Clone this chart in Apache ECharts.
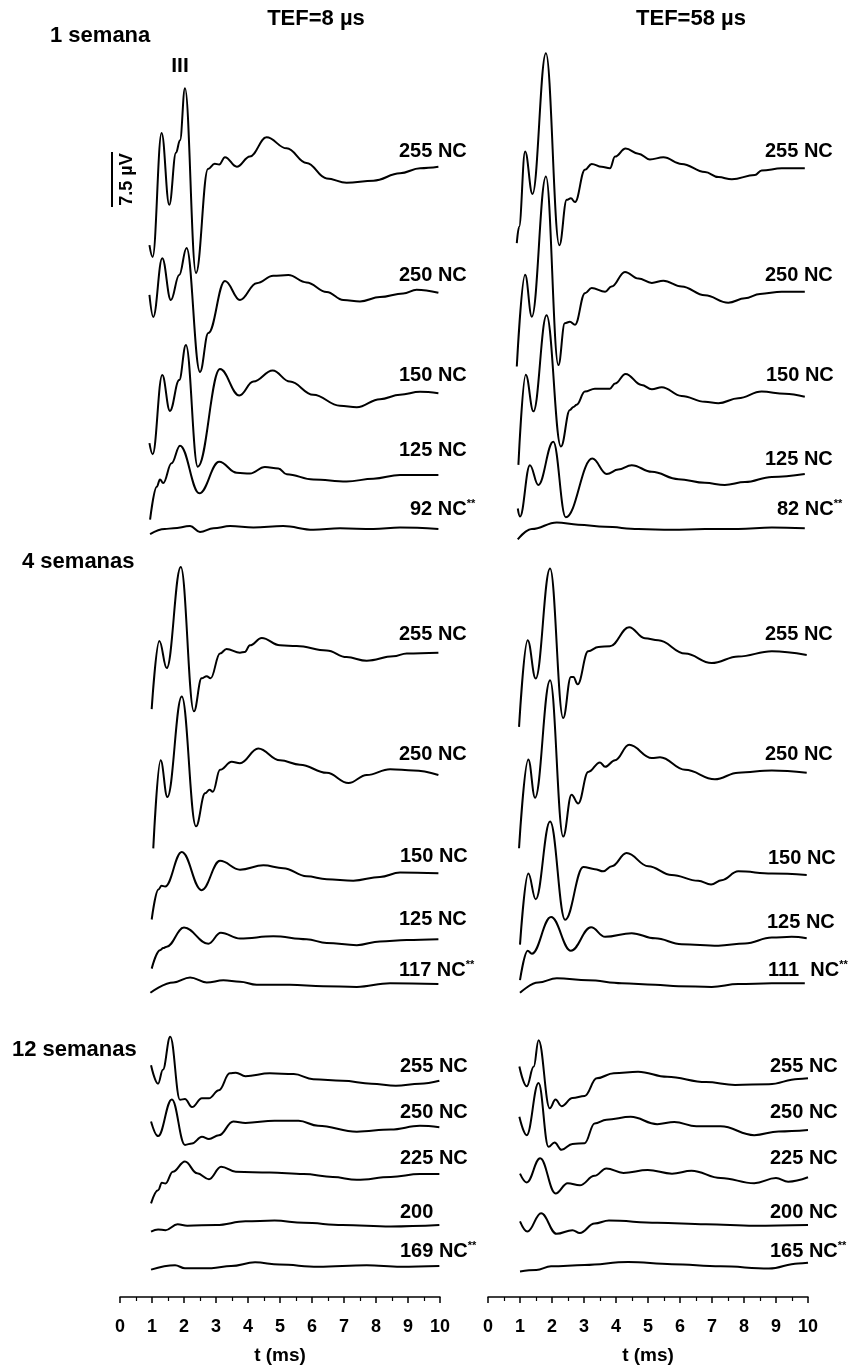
<!DOCTYPE html>
<html>
<head>
<meta charset="utf-8">
<script src="https://cdn.jsdelivr.net/npm/echarts@6/dist/echarts.min.js"></script>
<style>
  html, body { margin: 0; padding: 0; background: #fff; }
  #chart { width: 861px; height: 1368px; }
</style>
</head>
<body>
<div id="chart"></div>
<script>
// ECAP waveforms, amplitude in µV versus time in ms.
// Naming: s<weeks>_<a = TEF 8 µs | b = TEF 58 µs>_<current level>

// ---- 1 semana, TEF = 8 µs ----
const s1_a_255 = [[0.92,-10.7],[1.02,-12.3],[1.30,4.6],[1.54,-5.2],[1.75,1.9],[1.875,3.6],[2.03,10.7],[2.375,-14.5],[2.75,-0.3],[2.96,0.4],[3.1,0.3],[3.28,1.3],[3.65,0.0],[4.06,1.4],[4.58,4.0],[5.21,2.5],[5.83,0.5],[6.46,-1.6],[7.08,-2.2],[7.92,-1.9],[8.75,-0.9],[9.38,-0.2],[9.95,0]];
const s1_a_250 = [[0.92,-0.3],[1.04,-3.3],[1.32,4.7],[1.59,-1.0],[1.85,2.4],[2.08,6.1],[2.5,-10.8],[2.76,-5.5],[3.28,1.6],[3.75,-1.0],[4.27,1.3],[4.79,2.3],[5.26,2.4],[5.83,1.4],[6.46,0.1],[6.98,-1.0],[7.5,-1.2],[8.125,-0.6],[8.85,-0.1],[9.27,0.4],[9.95,0]];
const s1_a_150 = [[0.92,-6.8],[1.02,-8.3],[1.32,2.5],[1.56,-2.4],[1.85,1.8],[2.06,6.6],[2.43,-10.0],[3.125,3.3],[3.73,-0.3],[4.17,1.6],[4.77,3.1],[5.31,1.6],[6.04,-0.2],[6.875,-1.7],[7.4,-1.9],[8.125,-0.8],[8.75,-0.2],[9.375,0.2],[9.95,0]];
const s1_a_125 = [[0.94,-6.1],[1.15,-1.6],[1.25,-0.6],[1.35,-1.1],[1.61,1.6],[1.875,4.0],[2.48,-2.5],[3.1,1.8],[3.65,0.3],[4.06,0.2],[4.53,1.1],[4.95,0.9],[5.21,0.1],[6.04,-0.6],[7.08,-0.9],[7.92,-0.5],[8.75,0],[9.95,0]];
const s1_a_92  = [[0.94,-0.7],[1.4,0],[1.67,0.1],[2.19,0.4],[2.5,-0.4],[2.92,0.1],[3.44,0.4],[4.17,0.2],[5.1,0.4],[6.04,-0.1],[6.875,0.1],[7.92,0],[8.75,0.2],[9.95,0]];

// ---- 1 semana, TEF = 58 µs ----
const s1_b_255 = [[0.9,-10.2],[0.97,-8.0],[1.16,2.3],[1.39,-3.5],[1.81,15.7],[2.23,-10.5],[2.46,-4.3],[2.59,-4.1],[2.72,-4.6],[3.03,-0.2],[3.24,0.6],[3.55,0.2],[3.81,0],[3.97,1.6],[4.3,2.7],[4.7,2.0],[5.06,1.2],[5.48,1.5],[6.05,0.6],[6.78,-0.5],[7.2,-1.2],[7.62,-1.5],[8.34,-0.9],[8.55,-0.3],[9.18,0],[9.9,0]];
const s1_b_250 = [[0.9,-10.2],[1.16,2.3],[1.37,-3.4],[1.81,15.7],[2.2,-10.0],[2.4,-4.3],[2.56,-4.1],[2.72,-4.5],[3.03,-0.2],[3.24,0.5],[3.66,0],[3.86,0.7],[4.28,2.7],[4.7,1.8],[5.12,1.2],[5.48,1.5],[6.05,0.7],[6.78,-0.5],[7.51,-1.5],[8.03,-0.9],[8.5,-0.3],[9.18,0],[9.9,0]];
const s1_b_150 = [[0.95,-9.3],[1.18,3.0],[1.42,-2.0],[1.83,11.1],[2.28,-6.8],[2.56,-1.8],[2.67,-1.4],[2.77,-1.1],[3.03,0.7],[3.34,1.1],[3.81,1.1],[3.97,1.8],[4.3,3.1],[4.8,1.6],[5.12,1.0],[5.43,1.3],[6.05,0.1],[6.78,-0.7],[7.2,-0.9],[7.82,-0.2],[8.55,0.7],[9.28,0.4],[9.9,0]];
const s1_b_125 = [[0.93,-4.7],[1.0,-5.8],[1.31,1.2],[1.57,-1.5],[2.04,4.4],[2.43,-5.9],[3.26,2.1],[3.71,0],[4.07,0.6],[4.49,1.2],[5.12,0.3],[5.95,-0.7],[6.78,-1.2],[7.4,-1.5],[8.03,-1.1],[8.87,-0.4],[9.9,0]];
const s1_b_82  = [[0.93,-1.5],[1.37,-0.1],[2.15,0.8],[2.82,0.5],[3.66,0.2],[4.7,-0.1],[5.74,-0.2],[6.78,-0.1],[7.82,-0.1],[8.87,0.1],[9.9,0]];

// ---- 4 semanas, TEF = 8 µs ----
const s4_a_255 = [[0.99,-7.7],[1.23,1.6],[1.46,-2.1],[1.9,11.7],[2.31,-8.0],[2.55,-3.5],[2.71,-3.2],[2.83,-3.5],[3.125,-0.1],[3.33,0.5],[3.75,0],[3.9,0.1],[4.06,1.0],[4.43,2.0],[5.0,1.0],[5.52,0.9],[6.46,0.3],[7.08,-0.6],[7.71,-1.1],[8.54,-0.5],[8.96,-0.1],[9.95,0]];
const s4_a_250 = [[1.04,-10.0],[1.27,2.0],[1.48,-3.0],[1.93,10.7],[2.375,-7.0],[2.66,-2.5],[2.8,-2.0],[2.9,-2.3],[3.125,0.7],[3.49,1.8],[3.75,1.6],[4.32,3.6],[5.0,2.0],[5.625,1.4],[6.46,0.3],[7.14,-1.1],[7.71,0],[8.44,0.8],[9.17,0.6],[9.95,0]];
const s4_a_150 = [[0.99,-6.3],[1.2,-2.2],[1.3,-1.7],[1.41,-1.8],[1.93,2.9],[2.55,-2.3],[3.125,1.7],[3.75,0.5],[4.48,1.1],[5.1,0.7],[5.83,-0.4],[6.46,-0.8],[7.29,-1.0],[8.125,-0.5],[8.75,0.1],[9.95,0]];
const s4_a_125 = [[0.99,-4.0],[1.25,-1.5],[1.35,-1.2],[1.46,-1.0],[2.0,1.6],[2.76,-0.6],[3.15,0.9],[3.75,0.1],[4.79,0.4],[5.83,0],[6.46,-0.5],[7.4,-0.8],[8.125,-0.3],[8.96,-0.1],[9.95,0]];
const s4_a_117 = [[0.95,-1.2],[1.67,0.2],[2.19,0.9],[2.71,0.2],[3.23,0.5],[3.75,0.3],[4.27,-0.1],[5.31,-0.1],[6.35,-0.3],[7.4,-0.4],[8.44,0.1],[9.95,0]];

// ---- 4 semanas, TEF = 58 µs ----
const s4_b_255 = [[0.97,-9.8],[1.24,2.0],[1.49,-3.2],[1.94,11.8],[2.35,-8.6],[2.59,-3.0],[2.67,-3.0],[2.8,-4.0],[3.13,0.5],[3.45,1.1],[3.81,1.2],[4.41,3.8],[4.9,2.3],[5.32,2.0],[6.16,0.2],[6.99,-1.1],[7.82,-0.2],[8.87,0.5],[9.96,0]];
const s4_b_250 = [[0.97,-10.3],[1.26,1.8],[1.47,-3.4],[1.94,12.6],[2.35,-8.7],[2.61,-3.0],[2.82,-4.2],[3.13,0.1],[3.5,1.4],[3.66,0.8],[3.97,1.7],[4.41,3.8],[5.12,2.0],[5.375,2.1],[6.16,0.4],[7.09,-0.9],[7.82,0],[8.87,0.3],[9.96,0]];
const s4_b_150 = [[1.0,-9.5],[1.26,0.2],[1.49,-3.3],[1.94,7.3],[2.41,-6.1],[2.98,1.1],[3.34,0.8],[3.6,0.5],[3.87,1.2],[4.33,3.0],[5.01,1.2],[5.74,0],[6.57,-0.8],[6.97,-1.3],[7.3,-0.7],[7.82,0.5],[8.87,0.2],[9.96,0]];
const s4_b_125 = [[1.0,-5.7],[1.24,-1.7],[1.37,-2.1],[1.97,2.9],[2.59,-1.7],[3.22,1.5],[3.66,0.2],[4.49,0.7],[5.22,0],[6.05,-0.8],[7.2,-1.0],[8.03,-0.7],[8.87,0.1],[9.49,0.2],[9.96,0]];
const s4_b_111 = [[1.0,-1.3],[1.57,0.1],[2.15,0.7],[3.13,0.4],[4.18,0],[5.22,-0.2],[5.95,-0.4],[6.99,-0.5],[7.82,-0.1],[8.87,0],[9.9,0]];

// ---- 12 semanas, TEF = 8 µs ----
const s12_a_255 = [[0.97,2.1],[1.19,-0.4],[1.34,1.5],[1.57,6.0],[1.875,-2.6],[2.03,-2.5],[2.25,-3.6],[2.56,-2.4],[2.78,-2.4],[3.09,-1.3],[3.43,1.0],[3.62,1.1],[3.92,0.6],[4.68,1.0],[5.43,0.9],[6.04,0.2],[6.95,0],[7.86,-0.4],[8.62,-0.7],[9.37,-0.4],[9.98,0]];
const s12_a_250 = [[0.97,0.8],[1.19,-1.2],[1.62,3.8],[2.03,-2.4],[2.25,-2.2],[2.56,-1.3],[2.78,-1.6],[3.09,-1.1],[3.54,0.8],[3.92,0.6],[4.83,0.9],[5.58,0.9],[6.19,0.2],[7.4,-0.6],[8.46,-0.3],[9.37,0.2],[9.98,0]];
const s12_a_225 = [[0.97,-4.0],[1.19,-2.2],[1.31,-1.2],[1.42,-1.3],[1.65,0.3],[2.03,1.7],[2.41,0.1],[2.78,-0.7],[3.16,1.0],[3.62,0.3],[4.68,0.2],[5.74,0],[6.65,-0.4],[7.4,-0.8],[8.46,-0.4],[9.37,0],[9.98,0]];
const s12_a_200 = [[0.97,-0.9],[1.19,-0.6],[1.42,-0.7],[1.8,0.1],[2.1,-0.1],[3.01,0],[3.92,0.5],[4.83,0.6],[5.74,0.3],[6.95,0],[8.46,-0.2],[9.98,0]];
const s12_a_169 = [[0.97,-0.5],[1.72,0.1],[2.03,-0.3],[2.86,-0.3],[3.47,0],[4.22,0.5],[4.98,0.2],[6.19,-0.1],[7.71,0.1],[8.77,-0.1],[9.98,0]];

// ---- 12 semanas, TEF = 58 µs ----
const s12_b_255 = [[0.98,1.6],[1.21,-1.1],[1.43,1.6],[1.58,5.2],[1.93,-4.1],[2.11,-2.9],[2.3,-3.8],[2.64,-2.7],[3.02,-2.4],[3.4,0],[3.93,0.7],[4.69,0.9],[5.6,0.2],[6.81,-0.5],[7.72,-0.9],[8.78,-0.8],[9.69,-0.1],[10.0,0]];
const s12_b_250 = [[0.98,1.8],[1.21,-0.7],[1.58,6.4],[1.89,-2.3],[2.08,-1.7],[2.3,-2.7],[2.64,-1.9],[3.02,-1.8],[3.33,0.9],[3.7,1.4],[4.46,1.8],[5.29,0.8],[5.82,1.1],[6.51,0.5],[7.27,0.5],[8.32,-0.7],[9.08,-0.2],[10.0,0]];
const s12_b_225 = [[1.0,0.5],[1.21,-0.7],[1.63,2.6],[2.11,-2.2],[2.49,-0.8],[2.87,-1.1],[3.33,0.2],[3.7,1.2],[4.23,0.6],[4.99,1.0],[5.75,0.5],[6.36,0.9],[7.27,-0.1],[8.32,-0.8],[9.0,-0.1],[9.38,-0.6],[10.0,0]];
const s12_b_200 = [[1.0,0.5],[1.23,-0.9],[1.66,1.6],[2.14,-1.2],[2.64,-0.7],[2.87,-1.1],[3.33,0.2],[3.78,0.6],[5.29,0.3],[6.81,0.1],[8.32,-0.1],[10.0,0]];
const s12_b_165 = [[1.0,-1.2],[1.51,-1.0],[1.97,-0.5],[3.02,-0.3],[4.38,0.1],[5.75,-0.2],[7.27,-0.5],[8.78,-0.8],[9.69,-0.1],[10.0,0]];

// Column titles, group names, axis
const columnTitles = ['TEF=8 µs', 'TEF=58 µs'];
const groupNames = ['1 semana', '4 semanas', '12 semanas'];
const axisTitle = 't (ms)';
const scaleBarUV = 7.5;

// ---- layout ----
const PX_PER_UV = 55 / scaleBarUV;        // vertical scale (55 px per 7.5 µV)
const SPAN = 12;                           // µV band of each trace's grid (lines are not clipped)
const COLS = [{ left: 120, width: 320 }, { left: 488, width: 320 }];
const FONT = '"Liberation Sans", Arial, Helvetica, sans-serif';

// one entry per trace: column, rest-level pixel row, data, label and label position
const traces = [
  { col: 0, base: 166.7, data: s1_a_255, text: '255 NC', lx: 399, ly: 151 },
  { col: 0, base: 292.7, data: s1_a_250, text: '250 NC', lx: 399, ly: 275 },
  { col: 0, base: 393.3, data: s1_a_150, text: '150 NC', lx: 399, ly: 375 },
  { col: 0, base: 475.0, data: s1_a_125, text: '125 NC', lx: 399, ly: 450 },
  { col: 0, base: 529.0, data: s1_a_92,  text: '92 NC',  lx: 410, ly: 509, sup: true },
  { col: 0, base: 652.7, data: s4_a_255, text: '255 NC', lx: 399, ly: 634 },
  { col: 0, base: 775.0, data: s4_a_250, text: '250 NC', lx: 399, ly: 754 },
  { col: 0, base: 873.3, data: s4_a_150, text: '150 NC', lx: 400, ly: 856 },
  { col: 0, base: 939.3, data: s4_a_125, text: '125 NC', lx: 399, ly: 919 },
  { col: 0, base: 984.0, data: s4_a_117, text: '117 NC', lx: 399, ly: 970, sup: true },
  { col: 0, base: 1080.7, data: s12_a_255, text: '255 NC', lx: 400, ly: 1066 },
  { col: 0, base: 1127.3, data: s12_a_250, text: '250 NC', lx: 400, ly: 1112 },
  { col: 0, base: 1174.0, data: s12_a_225, text: '225 NC', lx: 400, ly: 1158 },
  { col: 0, base: 1225.0, data: s12_a_200, text: '200',    lx: 400, ly: 1212 },
  { col: 0, base: 1266.0, data: s12_a_169, text: '169 NC', lx: 400, ly: 1251, sup: true },

  { col: 1, base: 168.3, data: s1_b_255, text: '255 NC', lx: 765, ly: 151 },
  { col: 1, base: 291.7, data: s1_b_250, text: '250 NC', lx: 765, ly: 275 },
  { col: 1, base: 396.7, data: s1_b_150, text: '150 NC', lx: 766, ly: 375 },
  { col: 1, base: 474.0, data: s1_b_125, text: '125 NC', lx: 765, ly: 459 },
  { col: 1, base: 528.3, data: s1_b_82,  text: '82 NC',  lx: 777, ly: 509, sup: true },
  { col: 1, base: 655.0, data: s4_b_255, text: '255 NC', lx: 765, ly: 634 },
  { col: 1, base: 772.7, data: s4_b_250, text: '250 NC', lx: 765, ly: 754 },
  { col: 1, base: 875.0, data: s4_b_150, text: '150 NC', lx: 768, ly: 858 },
  { col: 1, base: 938.3, data: s4_b_125, text: '125 NC', lx: 767, ly: 922 },
  { col: 1, base: 983.3, data: s4_b_111, text: '111  NC', lx: 768, ly: 970, sup: true },
  { col: 1, base: 1078.3, data: s12_b_255, text: '255 NC', lx: 770, ly: 1066 },
  { col: 1, base: 1130.0, data: s12_b_250, text: '250 NC', lx: 770, ly: 1112 },
  { col: 1, base: 1177.3, data: s12_b_225, text: '225 NC', lx: 770, ly: 1158 },
  { col: 1, base: 1225.0, data: s12_b_200, text: '200 NC', lx: 770, ly: 1212 },
  { col: 1, base: 1262.7, data: s12_b_165, text: '165 NC', lx: 770, ly: 1251, sup: true }
];

const grids = [], xAxes = [], yAxes = [], series = [], graphics = [];

traces.forEach((tr, i) => {
  grids.push({
    left: COLS[tr.col].left, width: COLS[tr.col].width,
    top: tr.base - SPAN * PX_PER_UV, height: 2 * SPAN * PX_PER_UV
  });
  xAxes.push({ gridIndex: i, type: 'value', min: 0, max: 10, show: false });
  yAxes.push({ gridIndex: i, type: 'value', min: -SPAN, max: SPAN, show: false });
  series.push({
    type: 'line', xAxisIndex: i, yAxisIndex: i, data: tr.data,
    showSymbol: false, smooth: 0.4, smoothMonotone: 'x', silent: true, clip: false,
    lineStyle: { color: '#000', width: 2 }
  });
  graphics.push({
    type: 'text', x: tr.lx, y: tr.ly,
    style: {
      text: tr.sup ? '{m|' + tr.text + '}{s|**}' : '{m|' + tr.text + '}',
      verticalAlign: 'middle',
      rich: {
        m: { font: 'bold 20px ' + FONT, fill: '#000', lineHeight: 22 },
        s: { font: 'bold 11px ' + FONT, fill: '#000', verticalAlign: 'top', lineHeight: 22 }
      }
    }
  });
});

// time axes at the bottom of each column
COLS.forEach((c) => {
  const gi = grids.length;
  grids.push({ left: c.left, width: c.width, top: 1237, height: 60 });
  xAxes.push({
    gridIndex: gi, type: 'value', min: 0, max: 10, interval: 1, position: 'bottom',
    axisLine: { show: true, lineStyle: { color: '#000', width: 1.5 } },
    axisTick: { show: true, length: 6, lineStyle: { color: '#000', width: 1.5 } },
    minorTick: { show: true, splitNumber: 2, length: 4, lineStyle: { color: '#000', width: 1.2 } },
    splitLine: { show: false },
    axisLabel: { color: '#000', fontFamily: FONT, fontWeight: 'bold', fontSize: 18, margin: 21 },
    name: axisTitle, nameLocation: 'middle', nameGap: 49,
    nameTextStyle: { color: '#000', fontFamily: FONT, fontWeight: 'bold', fontSize: 19 }
  });
  yAxes.push({ gridIndex: gi, type: 'value', show: false });
});

// headings
const headFont = 'bold 22px ' + FONT;
graphics.push(
  { type: 'text', x: 316, y: 19, style: { text: columnTitles[0], font: headFont, fill: '#000', align: 'center', verticalAlign: 'middle' } },
  { type: 'text', x: 691, y: 19, style: { text: columnTitles[1], font: headFont, fill: '#000', align: 'center', verticalAlign: 'middle' } },
  { type: 'text', x: 50, y: 36, style: { text: groupNames[0], font: headFont, fill: '#000', verticalAlign: 'middle' } },
  { type: 'text', x: 22, y: 562, style: { text: groupNames[1], font: headFont, fill: '#000', verticalAlign: 'middle' } },
  { type: 'text', x: 12, y: 1050, style: { text: groupNames[2], font: headFont, fill: '#000', verticalAlign: 'middle' } },
  { type: 'text', x: 180, y: 66, style: { text: 'III', font: 'bold 21px ' + FONT, fill: '#000', align: 'center', verticalAlign: 'middle' } }
);

// amplitude scale bar, label centred on the bar
const barTop = 152, barLen = scaleBarUV * PX_PER_UV;
graphics.push(
  { type: 'line', shape: { x1: 112, y1: barTop, x2: 112, y2: barTop + barLen }, style: { stroke: '#000', lineWidth: 2 } },
  { type: 'text', x: 127, y: barTop + barLen / 2, rotation: Math.PI / 2,
    style: { text: scaleBarUV + ' µV', font: 'bold 18px ' + FONT, fill: '#000', align: 'center', verticalAlign: 'middle' } }
);

const chart = echarts.init(document.getElementById('chart'), null, { renderer: 'canvas' });
chart.setOption({
  animation: false,
  backgroundColor: '#fff',
  grid: grids,
  xAxis: xAxes,
  yAxis: yAxes,
  series: series,
  graphic: graphics
});
</script>
</body>
</html>
